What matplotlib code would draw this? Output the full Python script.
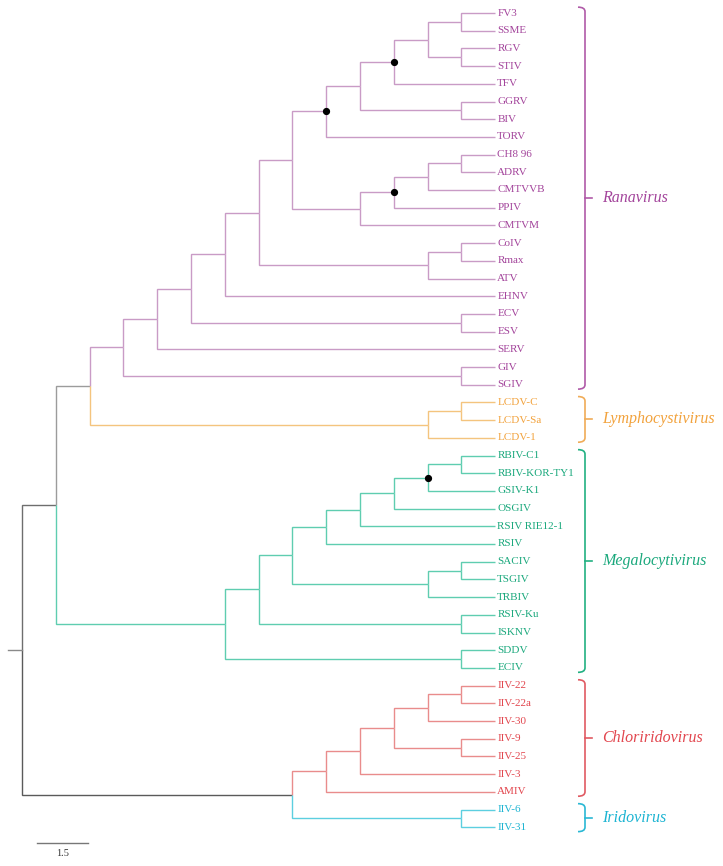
import matplotlib
matplotlib.use("Agg")
import matplotlib.pyplot as plt
from matplotlib.path import Path
from matplotlib.patches import PathPatch

# ---------------- data ----------------
# Cladogram topology (Newick) of each genus
newick_ranavirus = ("(((((((((((FV3,SSME),(RGV,STIV)),TFV),(GGRV,BIV)),TORV),"
                    "((((CH8 96,ADRV),CMTVVB),PPIV),CMTVM)),((CoIV,Rmax),ATV)),EHNV),"
                    "(ECV,ESV)),SERV),(GIV,SGIV))")
newick_lympho = "((LCDV-C,LCDV-Sa),LCDV-1)"
newick_megalo = ("((((((((RBIV-C1,RBIV-KOR-TY1),GSIV-K1),OSGIV),RSIV RIE12-1),RSIV),"
                 "((SACIV,TSGIV),TRBIV)),(RSIV-Ku,ISKNV)),(SDDV,ECIV))")
newick_chlori = "(((((IIV-22,IIV-22a),IIV-30),(IIV-9,IIV-25)),IIV-3),AMIV)"
newick_irido = "(IIV-6,IIV-31)"

genus_names = ["Ranavirus", "Lymphocystivirus", "Megalocytivirus",
               "Chloriridovirus", "Iridovirus"]
genus_line_colors = ["#c99bc6", "#f4c47e", "#5fcdb0", "#e98c8c", "#5ccfe0"]
genus_text_colors = ["#a3449b", "#f2a23c", "#1aa87c", "#e2464e", "#1cb4d2"]
genus_bracket_colors = ["#b05aa8", "#f0ac58", "#22b082", "#e05a62", "#2ab8d4"]

# nodes marked with a black dot (identified by two descendant leaves)
marked_nodes = [("FV3", "TFV"), ("FV3", "TORV"), ("CH8 96", "PPIV"),
                ("RBIV-C1", "GSIV-K1")]

scale_bar_length = 1.5
scale_bar_label = "1.5"

# ---------------- tree parsing ----------------
def parse(s):
    pos = [0]

    def node():
        if s[pos[0]] == "(":
            pos[0] += 1
            kids = [node()]
            while s[pos[0]] == ",":
                pos[0] += 1
                kids.append(node())
            pos[0] += 1  # ')'
            return {"kids": kids}
        start = pos[0]
        while pos[0] < len(s) and s[pos[0]] not in ",()":
            pos[0] += 1
        return {"name": s[start:pos[0]], "kids": []}

    return node()

genera = [parse(t) for t in [newick_ranavirus, newick_lympho, newick_megalo,
                             newick_chlori, newick_irido]]
for g, gen in enumerate(genera):
    def tag(n, g=g):
        n["genus"] = g
        for k in n["kids"]:
            tag(k)
    tag(gen)

rana_lympho = {"kids": [genera[0], genera[1]], "genus": None, "edge": "#9c9c9c"}
node_a = {"kids": [rana_lympho, genera[2]], "genus": None, "edge": "#6e6e6e"}
chl_iri = {"kids": [genera[3], genera[4]], "genus": None, "edge": "#5a5a5a"}
root = {"kids": [node_a, chl_iri], "genus": None, "edge": "#8a8a8a"}

leaves = []

def height(n):
    if not n["kids"]:
        n["h"] = 0
    else:
        n["h"] = 1 + max(height(k) for k in n["kids"])
    return n["h"]

H = height(root)

def layout(n):
    n["x"] = H - n["h"]
    if not n["kids"]:
        n["y"] = len(leaves)
        leaves.append(n)
    else:
        for k in n["kids"]:
            layout(k)
        n["y"] = (n["kids"][0]["y"] + n["kids"][-1]["y"]) / 2.0

layout(root)

def leafset(n):
    if not n["kids"]:
        return {n["name"]}
    out = set()
    for k in n["kids"]:
        out |= leafset(k)
    return out

def mrca(n, a, b):
    for k in n["kids"]:
        ls = leafset(k)
        if a in ls and b in ls:
            return mrca(k, a, b)
    return n

# ---------------- figure ----------------
W, Hpx = 723, 866
fig = plt.figure(figsize=(W / 100, Hpx / 100), dpi=100)
ax = fig.add_axes([0, 0, 1, 1])
step = 33.8
x0px = 22.0
ypx0, ystep = 13.0, 17.7
ax.set_xlim((0 - x0px) / step, (W - x0px) / step)
ax.set_ylim((Hpx - ypx0) / ystep, (0 - ypx0) / ystep)
ax.axis("off")

def edge_color(n):
    if n.get("genus") is not None:
        return genus_line_colors[n["genus"]]
    return n.get("edge", "#666666")

lw = 1.0

def draw(n):
    for k in n["kids"]:
        c = edge_color(k)
        ax.plot([n["x"], n["x"], k["x"]], [n["y"], k["y"], k["y"]],
                color=c, lw=lw, solid_capstyle="butt", solid_joinstyle="miter")
        draw(k)

draw(root)
# root stub
ax.plot([root["x"] - 0.42, root["x"]], [root["y"], root["y"]], color="#8a8a8a", lw=lw)

# leaf labels
for lf in leaves:
    ax.text(lf["x"] + 0.06, lf["y"], lf["name"], ha="left", va="center",
            fontsize=8, family="Liberation Serif",
            color=genus_text_colors[lf["genus"]])

# marked nodes
for a, b in marked_nodes:
    m = mrca(root, a, b)
    ax.plot(m["x"], m["y"], "o", color="black", ms=4.2, zorder=5)

# brackets
bx = (585 - x0px) / step
hook = 7 / step
tick = 7 / step
for g, gen in enumerate(genera):
    ls = [lf["y"] for lf in leaves if lf["genus"] == g]
    y1, y2 = min(ls) - 0.33, max(ls) + 0.25
    ym = (y1 + y2) / 2
    col = genus_bracket_colors[g]
    verts = [(bx - hook, y1), (bx, y1), (bx, y1 + 0.25), (bx, y2 - 0.25),
             (bx, y2), (bx - hook, y2)]
    codes = [Path.MOVETO, Path.CURVE3, Path.CURVE3, Path.LINETO,
             Path.CURVE3, Path.CURVE3]
    ax.add_patch(PathPatch(Path(verts, codes), fill=False, edgecolor=col, lw=1.2))
    ax.plot([bx, bx + tick], [ym, ym], color=col, lw=1.2)
    ax.text(bx + (17 / step), ym, genus_names[g], ha="left", va="center",
            fontsize=11.5, family="Liberation Serif", style="italic",
            color=genus_text_colors[g])

# scale bar
sb_x = (37 - x0px) / step
sb_y = (843 - ypx0) / ystep
ax.plot([sb_x, sb_x + scale_bar_length], [sb_y, sb_y], color="#777777", lw=1.0)
ax.text(sb_x + scale_bar_length / 2, (853 - ypx0) / ystep, scale_bar_label,
        ha="center", va="center", fontsize=7.5, family="Liberation Serif",
        color="#333333")

fig.savefig("out.png", dpi=100)
